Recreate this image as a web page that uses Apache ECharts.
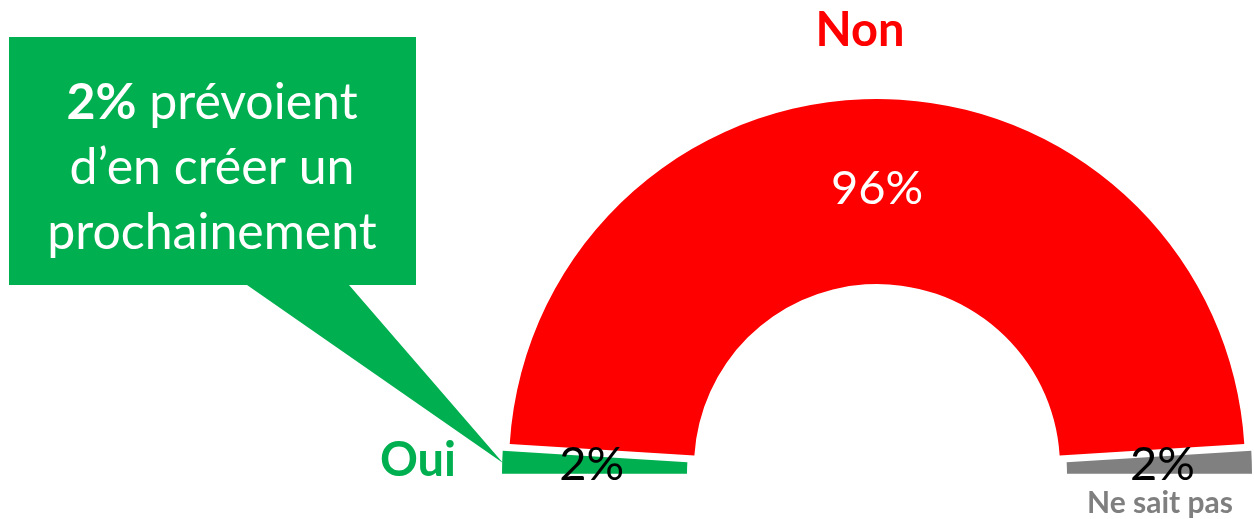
<!DOCTYPE html>
<html><head><meta charset="utf-8">
<script src="https://cdn.jsdelivr.net/npm/echarts@6/dist/echarts.min.js"></script>
<style>html,body{margin:0;padding:0;background:#fff}#c{width:1254px;height:519px}</style>
</head><body><div id="c"></div>
<script>
const categories = ['Oui', 'Non', 'Ne sait pas'];
const values = [2, 96, 2];
const colors = ['#00B050', '#FF0000', '#808080'];
const labelColors = ['#000000', '#FFFFFF', '#000000'];
const calloutBold = '2%';
const calloutRest = [' prévoient', 'd’en créer un', 'prochainement'];

const FONT = 'Lato, "Open Sans", sans-serif';
const chart = echarts.init(document.getElementById('c'), null, {renderer: 'canvas'});

const data = categories.map((name, i) => ({
  name: name,
  value: values[i],
  selected: true,
  itemStyle: {color: colors[i], borderWidth: 0},
  label: {color: labelColors[i], offset: i === 1 ? [-2, 6] : [0, 2]},
  select: {itemStyle: {color: colors[i], borderWidth: 0}, label: {color: labelColors[i]}}
}));

chart.setOption({
  animation: false,
  backgroundColor: '#ffffff',
  series: [{
    type: 'pie',
    center: [877, 474],
    radius: [183, 368],
    startAngle: 180,
    endAngle: 0,
    clockwise: true,
    selectedMode: 'multiple',
    selectedOffset: 7,
    silent: true,
    emphasis: {disabled: true},
    label: {
      show: true,
      position: 'inside',
      formatter: '{c}%',
      fontFamily: FONT,
      fontSize: 47,
      fontWeight: 'normal'
    },
    labelLine: {show: false},
    data: data
  }],
  graphic: [
    {
      type: 'polygon',
      silent: true,
      shape: {points: [[9, 37], [416, 37], [416, 285], [349, 285], [503, 463], [247, 285], [9, 285]]},
      style: {fill: '#00B050'}
    },
    {
      type: 'text',
      silent: true,
      x: 212, y: 168,
      style: {
        text: '{b|' + calloutBold + '}' + calloutRest[0] + '\n' + calloutRest[1] + '\n' + calloutRest[2],
        fill: '#ffffff',
        font: '50px ' + FONT,
        align: 'center',
        verticalAlign: 'middle',
        lineHeight: 65,
        rich: {b: {fontWeight: 'bold', fontSize: 50, fontFamily: FONT, fill: '#ffffff', lineHeight: 65}}
      }
    },
    {
      type: 'text', silent: true, x: 860, y: 31,
      style: {text: categories[1], fill: '#FF0000', font: 'bold 47px ' + FONT, align: 'center', verticalAlign: 'middle'}
    },
    {
      type: 'text', silent: true, x: 418, y: 461,
      style: {text: categories[0], fill: '#00B050', font: 'bold 47px ' + FONT, align: 'center', verticalAlign: 'middle'}
    },
    {
      type: 'text', silent: true, x: 1160, y: 503,
      style: {text: categories[2], fill: '#7F7F7F', font: 'bold 30px ' + FONT, align: 'center', verticalAlign: 'middle'}
    }
  ]
});
</script></body></html>
